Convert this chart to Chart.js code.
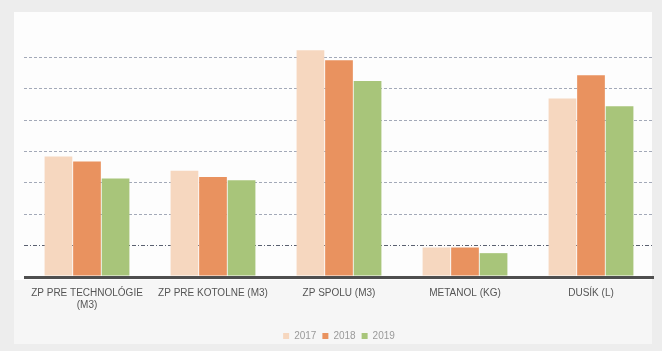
<!DOCTYPE html>
<html>
<head>
<meta charset="utf-8">
<script src="https://cdn.jsdelivr.net/npm/chart.js@4"></script>
<style>
  html, body { margin: 0; padding: 0; background: #ececec; }
  #wrap { width: 662px; height: 351px; }
</style>
</head>
<body>
<div id="wrap"><canvas id="chart" width="662" height="351"></canvas></div>
<script>
const categories = [
  ['ZP PRE TECHNOLÓGIE', '(M3)'],
  'ZP PRE KOTOLNE (M3)',
  'ZP SPOLU (M3)',
  'METANOL (KG)',
  'DUSÍK (L)'
];
const years = ['2017', '2018', '2019'];
const values2017 = [3.84, 3.39, 7.23, 0.94, 5.69];
const values2018 = [3.68, 3.19, 6.91, 0.94, 6.43];
const values2019 = [3.14, 3.08, 6.25, 0.76, 5.44];
const colors = ['#F6D7BF', '#E9925F', '#A8C57A'];

// paper-like background, white chart panel
const paper = {
  id: 'paper',
  beforeDraw(chart) {
    const c = chart.ctx;
    c.save();
    c.fillStyle = '#ededed';
    c.fillRect(0, 0, chart.width, chart.height);
    c.fillStyle = '#fdfdfd';
    c.fillRect(14, 12, 638, 268);
    c.fillStyle = '#f6f6f6';
    c.fillRect(14, 280, 638, 64);
    c.restore();
  }
};

new Chart(document.getElementById('chart'), {
  type: 'bar',
  data: {
    labels: categories,
    datasets: [
      { label: years[0], data: values2017, backgroundColor: colors[0] },
      { label: years[1], data: values2018, backgroundColor: colors[1] },
      { label: years[2], data: values2019, backgroundColor: colors[2] }
    ]
  },
  options: {
    responsive: false,
    animation: false,
    layout: { padding: { left: 24, right: 8, top: 26, bottom: 0 } },
    datasets: { bar: { categoryPercentage: 0.68, barPercentage: 0.97 } },
    plugins: {
      legend: {
        position: 'bottom',
        labels: {
          boxWidth: 6, boxHeight: 6, padding: 6,
          color: '#9a9a9a',
          font: { family: 'Liberation Sans', size: 10 }
        }
      },
      tooltip: { enabled: false }
    },
    scales: {
      x: {
        afterFit: axis => { axis.height += 12; },
        grid: { display: false },
        border: { display: false },
        ticks: {
          color: '#555',
          padding: 2,
          maxRotation: 0,
          font: { family: 'Liberation Sans', size: 10 }
        }
      },
      y: {
        min: 0, max: 8,
        ticks: { display: false, stepSize: 1 },
        border: {
          display: false,
          dash: ctx => ctx.tick && ctx.tick.value === 0 ? [] : (ctx.tick && ctx.tick.value === 1 ? [4, 2, 1, 2] : [3, 2])
        },
        grid: {
          drawTicks: false,
          color: ctx => {
            const v = ctx.tick.value;
            if (v === 0) return '#4f4f4f';
            if (v === 8) return 'rgba(0,0,0,0)';
            if (v === 1) return '#5a6070';
            return '#a3a9b8';
          },
          lineWidth: ctx => ctx.tick.value === 0 ? 3 : 1
        }
      }
    }
  },
  plugins: [paper]
});
</script>
</body>
</html>
